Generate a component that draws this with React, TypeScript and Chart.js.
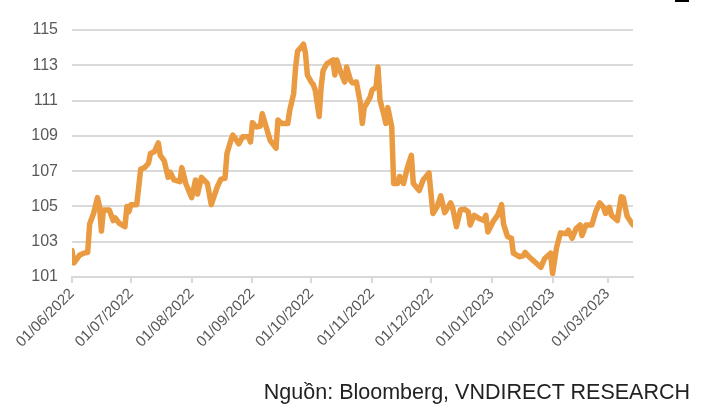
import React, { useEffect, useRef } from "react";
import { Chart, registerables } from "chart.js";

Chart.register(...registerables);

// Days elapsed since 01/06/2022
const dayOffsets = [
  0, 1, 4, 6, 8, 9, 11, 13, 14, 15, 16, 19, 21, 22, 24, 27, 28, 29, 30, 33,
  35, 37, 39, 40, 42, 44, 45, 47, 49, 50, 52, 55, 56, 58, 61, 63, 64, 66, 69, 71,
  74, 76, 78, 79, 81, 82, 85, 87, 90, 91, 92, 94, 96, 97, 99, 101, 104, 105, 107, 110,
  111, 113, 114, 115, 117, 118, 119, 120, 122, 123, 124, 126, 127, 128, 130, 133, 134, 135, 137, 139,
  140, 142, 143, 145, 147, 148, 149, 152, 153, 155, 156, 157, 158, 159, 160, 161, 163, 164, 166, 167,
  169, 171, 173, 174, 177, 179, 182, 184, 186, 188, 190, 193, 194, 196, 198, 200, 202, 203, 205, 207,
  210, 211, 212, 215, 217, 219, 220, 222, 224, 225, 228, 230, 231, 233, 236, 239, 241, 244, 245, 247,
  249, 252, 253, 255, 257, 259, 260, 262, 265, 267, 269, 271, 272, 274, 275, 278, 280, 281, 283, 285,
  286,
];

const values = [
  102.5, 101.8, 102.25, 102.35, 102.4, 104.0, 104.6, 105.5, 105.0, 103.6, 104.8, 104.8, 104.2, 104.35, 104.05, 103.85, 105.0, 104.7, 105.1, 105.1,
  107.1, 107.2, 107.45, 108.0, 108.1, 108.6, 107.9, 107.6, 106.65, 106.95, 106.5, 106.4, 107.2, 106.3, 105.5, 106.5, 105.7, 106.65, 106.3, 105.1,
  106.1, 106.55, 106.6, 108.0, 108.75, 109.05, 108.55, 108.95, 108.95, 108.65, 109.75, 109.5, 109.55, 110.25, 109.5, 108.75, 108.3, 109.9, 109.7, 109.7,
  110.45, 111.4, 112.9, 113.8, 114.05, 114.2, 113.7, 112.45, 112.05, 111.9, 111.6, 110.1, 111.75, 112.7, 113.1, 113.3, 112.45, 113.3, 112.6, 112.05,
  112.9, 112.15, 112.0, 112.05, 110.85, 109.7, 110.6, 111.2, 111.6, 111.75, 112.9, 111.05, 110.6, 110.2, 109.7, 110.6, 109.5, 106.3, 106.3, 106.7,
  106.3, 107.2, 107.9, 106.3, 105.9, 106.5, 106.9, 104.6, 104.95, 105.6, 104.65, 105.2, 104.95, 103.85, 104.8, 104.85, 104.7, 103.95, 104.5, 104.35,
  104.2, 104.5, 103.55, 104.2, 104.5, 105.1, 104.0, 103.3, 103.2, 102.35, 102.15, 102.2, 102.4, 102.15, 101.85, 101.55, 102.05, 102.35, 101.2, 102.65,
  103.5, 103.45, 103.65, 103.2, 103.75, 103.95, 103.35, 103.95, 103.95, 104.7, 105.2, 104.95, 104.6, 104.95, 104.5, 104.2, 105.55, 105.5, 104.45, 104.1,
  103.95,
];

const tickDays = [0, 30, 61, 92, 122, 153, 183, 214, 245, 273];
const tickLabels = [
  "01/06/2022", "01/07/2022", "01/08/2022", "01/09/2022", "01/10/2022",
  "01/11/2022", "01/12/2022", "01/01/2023", "01/02/2023", "01/03/2023",
];
const lastDay = 286;
const yMin = 101;
const yMax = 115;
const yStep = 2;
const sourceText = "Nguồn: Bloomberg, VNDIRECT RESEARCH";

export default function App() {
  const ref = useRef<HTMLCanvasElement | null>(null);

  useEffect(() => {
    document.body.style.margin = "0";
    const ctx = ref.current;
    if (!ctx) return;
    const chart = new Chart(ctx, {
      type: "line",
      data: {
        datasets: [
          {
            data: dayOffsets.map((d, i) => ({ x: d, y: values[i] })),
            borderColor: "#EA9A41",
            borderWidth: 5.5,
            pointRadius: 0,
            tension: 0,
            fill: false,
            borderJoinStyle: "round",
            borderCapStyle: "round",
          },
        ],
      },
      options: {
        animation: false,
        responsive: false,
        layout: { padding: { top: 30, right: 69, left: 0, bottom: 0 } },
        plugins: { legend: { display: false }, tooltip: { enabled: false } },
        scales: {
          x: {
            type: "linear",
            min: 0,
            max: lastDay,
            afterBuildTicks: (s: any) => {
              s.ticks = tickDays.map((v) => ({ value: v }));
            },
            afterFit: (s: any) => {
              s.height = 135;
            },
            ticks: {
              autoSkip: false,
              minRotation: 45,
              maxRotation: 45,
              padding: 2,
              color: "#595959",
              font: { family: "Liberation Sans", size: 15 },
              callback: (v: any) => {
                const i = tickDays.indexOf(Number(v));
                return i >= 0 ? tickLabels[i] : "";
              },
            },
            grid: {
              drawOnChartArea: false,
              drawTicks: true,
              tickLength: 6,
              color: "#d9d9d9",
              lineWidth: 2,
            },
            border: { display: true, color: "#d9d9d9", width: 2 },
          },
          y: {
            min: yMin,
            max: yMax,
            afterFit: (s: any) => {
              s.width = 72;
            },
            ticks: {
              stepSize: yStep,
              padding: 14,
              color: "#595959",
              font: { family: "Liberation Sans", size: 16 },
            },
            grid: { color: "#d9d9d9", lineWidth: 2, drawTicks: false },
            border: { display: false },
          },
        },
      },
    });
    return () => chart.destroy();
  }, []);

  return (
    <div style={{ position: "absolute", left: 0, top: 0, width: 702, height: 412, background: "#fff" }}>
      <canvas ref={ref} width={702} height={412} style={{ display: "block" }} />
      <div style={{ position: "absolute", left: 675, top: 0, width: 14, height: 2, background: "#000" }} />
      <div
        style={{
          position: "absolute",
          right: 12,
          top: 382,
          fontFamily: "Liberation Sans, Arial, sans-serif",
          fontSize: 21.5,
          lineHeight: "21.5px",
          color: "#222",
          whiteSpace: "nowrap",
        }}
      >
        {sourceText}
      </div>
    </div>
  );
}
